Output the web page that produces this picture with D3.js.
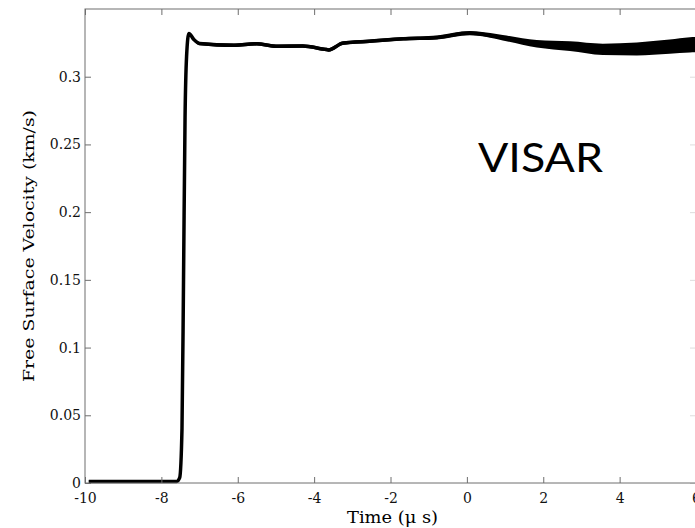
<!DOCTYPE html>
<html>
<head>
<meta charset="utf-8">
<script src="https://cdn.jsdelivr.net/npm/d3@7"></script>
<style>
  body { margin: 0; background: #fff; }
  svg { display: block; }
  .tick text { font-family: "DejaVu Serif", serif; font-size: 14px; fill: #111; }
</style>
</head>
<body>
<div class="container"></div>
<script>
"use strict";

// trace
const timeUs = [-9.9, -7.6, -7.52, -7.46, -7.42, -7.38, -7.34, -7.28, -7.15, -7.0,
  -6.1, -5.5, -5.0, -4.3, -3.72, -3.62, -3.25, -2.55, -1.67, -0.78,
  0.08, 0.29, 0.94, 1.83, 2.7, 3.56, 4.45, 5.31, 5.84, 6.1];
const velocity = [0.0012, 0.0012, 0.004, 0.04, 0.15, 0.27, 0.315, 0.332, 0.3275, 0.3245,
  0.3232, 0.3243, 0.3225, 0.3227, 0.3202, 0.3198, 0.3248, 0.3262, 0.328, 0.329,
  0.3322, 0.3318, 0.3288, 0.3243, 0.3225, 0.3202, 0.3205, 0.3222, 0.3235, 0.3238];
// half width of the noise band
const spread = [0.001, 0.001, 0.0005, 0, 0, 0, 0, 0.0005, 0.0012, 0.0012,
  0.0013, 0.0013, 0.0013, 0.0013, 0.0013, 0.0013, 0.0013, 0.0013, 0.0013, 0.0015,
  0.0016, 0.0016, 0.002, 0.0028, 0.0036, 0.0042, 0.0048, 0.0052, 0.0056, 0.0056];

const xTicks = [-10, -8, -6, -4, -2, 0, 2, 4, 6];
const yTicks = [0, 0.05, 0.1, 0.15, 0.2, 0.25, 0.3];
const yTickLabels = ["0", "0.05", "0.1", "0.15", "0.2", "0.25", "0.3"];

const width = 695;
const height = 528;
const box = { left: 85, right: 696, top: 9, bottom: 483 };

const x = d3.scaleLinear().domain([-10, 6]).range([box.left, box.right]);
const y = d3.scaleLinear().domain([0, 0.35]).range([box.bottom, box.top]);

const svg = d3.select(".container").append("svg")
  .attr("width", width)
  .attr("height", height);

const data = timeUs.map((t, i) => ({ t: t, v: velocity[i], s: spread[i] }));

//noise band + trace
svg.append("path")
  .datum(data)
  .attr("fill", "#000")
  .attr("d", d3.area()
    .x((d) => x(d.t))
    .y0((d) => y(d.v - d.s))
    .y1((d) => y(d.v + d.s))
    .curve(d3.curveMonotoneX));

svg.append("path")
  .datum(data)
  .attr("fill", "none")
  .attr("stroke", "#000")
  .attr("stroke-width", 3.5)
  .attr("stroke-linejoin", "round")
  .attr("d", d3.line()
    .x((d) => x(d.t))
    .y((d) => y(d.v))
    .curve(d3.curveMonotoneX));

//axes, matlab style box with inward ticks
const axisColor = "#6e6e6e";
const styleAxis = (g) => {
  g.select(".domain").remove();
  g.selectAll(".tick line").attr("stroke", axisColor);
};

svg.append("g")
  .attr("transform", "translate(0," + box.bottom + ")")
  .call(d3.axisBottom(x).tickValues(xTicks).tickSizeInner(-6).tickPadding(10).tickFormat((d) => String(d)))
  .call(styleAxis);

svg.append("g")
  .attr("transform", "translate(0," + box.top + ")")
  .call(d3.axisTop(x).tickValues(xTicks).tickSizeInner(-6).tickFormat(""))
  .call(styleAxis);

svg.append("g")
  .attr("transform", "translate(" + box.left + ",0)")
  .call(d3.axisLeft(y).tickValues(yTicks).tickSizeInner(-6).tickPadding(4)
    .tickFormat((d, i) => yTickLabels[i]))
  .call(styleAxis);

svg.append("g")
  .attr("transform", "translate(" + box.right + ",0)")
  .call(d3.axisRight(y).tickValues(yTicks).tickSizeInner(-6).tickFormat(""))
  .call(styleAxis)
  .selectAll(".tick line").attr("stroke", "#ddd");

svg.append("rect")
  .attr("x", box.left).attr("y", box.top)
  .attr("width", box.right - box.left).attr("height", box.bottom - box.top)
  .attr("fill", "none")
  .attr("stroke", axisColor)
  .attr("stroke-width", 1);

//labels
svg.append("text")
  .attr("x", 347).attr("y", 523)
  .attr("textLength", 91)
  .attr("lengthAdjust", "spacingAndGlyphs")
  .style("font-family", "DejaVu Serif, serif")
  .style("font-size", "16px")
  .text("Time (\u03bc s)");

svg.append("text")
  .attr("transform", "translate(34,382) rotate(-90)")
  .attr("textLength", 272)
  .attr("lengthAdjust", "spacingAndGlyphs")
  .style("font-family", "DejaVu Serif, serif")
  .style("font-size", "15px")
  .text("Free Surface Velocity (km/s)");

svg.append("text")
  .attr("x", 478).attr("y", 172)
  .style("font-family", "Lato, sans-serif")
  .style("font-size", "41px")
  .attr("textLength", 125)
  .attr("lengthAdjust", "spacingAndGlyphs")
  .text("VISAR");
</script>
</body>
</html>
